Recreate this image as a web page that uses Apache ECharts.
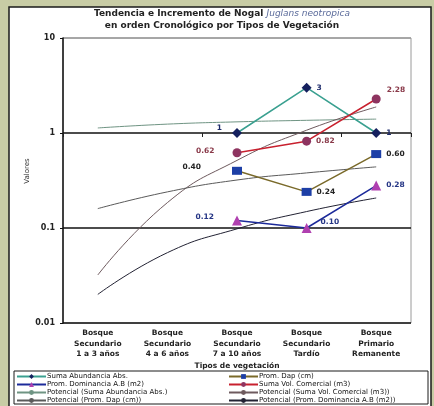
<!DOCTYPE html>
<html>
<head>
<meta charset="utf-8">
<script src="https://cdn.jsdelivr.net/npm/echarts@6/dist/echarts.min.js"></script>
<style>
  html, body { margin: 0; padding: 0; background: #c8cca5; }
  #chart { width: 434px; height: 406px; }
</style>
</head>
<body>
<div id="chart"></div>
<script>
// Vegetation types in chronological order
const categories = [
  'Bosque\nSecundario\n1 a 3 años',
  'Bosque\nSecundario\n4 a 6 años',
  'Bosque\nSecundario\n7 a 10 años',
  'Bosque\nSecundario\nTardío',
  'Bosque\nPrimario\nRemanente'
];

// Measured series (no data for the two youngest stands)
const sumaAbundancia   = [null, null, 1, 3, 1];
const promDap          = [null, null, 0.40, 0.24, 0.60];
const promDominancia   = [null, null, 0.12, 0.10, 0.28];
const sumaVolComercial = [null, null, 0.62, 0.82, 2.28];

// Power trend lines, read at each vegetation type
const potAbundancia    = [1.13, 1.24, 1.31, 1.36, 1.40];
const potDap           = [0.16, 0.24, 0.32, 0.38, 0.44];
const potVolComercial  = [0.032, 0.185, 0.515, 1.07, 1.88];
const potDominancia    = [0.020, 0.055, 0.098, 0.149, 0.207];

// Log axis ticks
const yTicks = ['0.01', '0.1', '1', '10'];

const FONT = 'DejaVu Sans';

// Where each point label sits relative to its marker
function labelled(values, places, color, digits) {
  return values.map((v, i) => {
    if (v === null) return null;
    const p = places[i] || { position: 'right' };
    return {
      value: v,
      label: {
        show: true,
        position: p.position,
        distance: p.distance != null ? p.distance : 4,
        offset: p.offset || [0, 0],
        formatter: () => digits ? v.toFixed(digits) : String(v),
        color: color,
        fontFamily: FONT,
        fontSize: 7.5,
        fontWeight: 'bold'
      }
    };
  });
}

const names = {
  abund: 'Suma Abundancia Abs.',
  dap: 'Prom. Dap (cm)',
  dom: 'Prom. Dominancia A.B (m2)',
  vol: 'Suma Vol. Comercial (m3)',
  pAbund: 'Potencial (Suma Abundancia Abs.)',
  pVol: 'Potencial (Suma Vol. Comercial (m3))',
  pDap: 'Potencial (Prom. Dap (cm))',
  pDom: 'Potencial (Prom. Dominancia A.B (m2))'
};

function trend(name, values, color) {
  return {
    name: name, type: 'line', data: values,
    smooth: true,
    symbol: 'none', showSymbol: false, z: 1,
    lineStyle: { color: color, width: 1 },
    itemStyle: { color: color }
  };
}

const chart = echarts.init(document.getElementById('chart'), null, { renderer: 'canvas' });

const titleRich = {
  a: { fontFamily: FONT, fontSize: 9, fontWeight: 'bold', fill: '#222' },
  b: { fontFamily: FONT, fontSize: 9, fontStyle: 'italic', fill: '#5a6a9a' }
};

chart.setOption({
  animation: false,
  backgroundColor: '#c8cca5',
  graphic: [
    { type: 'rect', z: -10, shape: { x: 9, y: 7, width: 422, height: 401 },
      style: { fill: '#ffffff', stroke: '#1a1a1a', lineWidth: 1.5 } },
    { type: 'rect', z: -5, shape: { x: 14, y: 371, width: 414, height: 33 },
      style: { fill: '#ffffff', stroke: '#1a1a1a', lineWidth: 1 } },
    { type: 'text', x: 222, y: 14, z: 10,
      style: {
        text: '{a|Tendencia e Incremento de Nogal }{b|Juglans neotropica}',
        align: 'center', verticalAlign: 'middle', rich: titleRich
      }
    },
    { type: 'text', x: 222, y: 26, z: 10,
      style: {
        text: '{a|en orden Cronológico por Tipos de Vegetación}',
        align: 'center', verticalAlign: 'middle', rich: titleRich
      }
    },
    { type: 'text', x: 27, y: 171, rotation: Math.PI / 2, z: 10,
      style: { text: 'Valores', fontFamily: FONT, fontSize: 7, fill: '#333',
               align: 'center', verticalAlign: 'middle' } },
    { type: 'text', x: 237, y: 366, z: 10,
      style: { text: 'Tipos de vegetación', fontFamily: FONT, fontSize: 7.5, fontWeight: 'bold',
               fill: '#222', align: 'center', verticalAlign: 'middle' } }
  ],
  grid: { left: 63, right: 23, top: 38, bottom: 83, show: true, borderColor: '#9a9a9a', borderWidth: 1 },
  legend: [
    {
      left: 16, top: 373, orient: 'vertical', padding: 0,
      itemWidth: 29, itemHeight: 6, itemGap: 1,
      data: [names.abund, names.dom, names.pAbund, names.pDap],
      textStyle: { fontFamily: FONT, fontSize: 7, color: '#111', lineHeight: 6, padding: [0, 0, 0, -4] }
    },
    {
      left: 228, top: 373, orient: 'vertical', padding: 0,
      itemWidth: 29, itemHeight: 6, itemGap: 1,
      data: [names.dap, names.vol, names.pVol, names.pDom],
      textStyle: { fontFamily: FONT, fontSize: 7, color: '#111', lineHeight: 6, padding: [0, 0, 0, -4] }
    }
  ],
  xAxis: [
    {
      type: 'category', data: categories, boundaryGap: true, position: 'bottom',
      axisLine: { show: false },
      axisTick: { show: false },
      axisLabel: { fontFamily: FONT, fontSize: 7.5, fontWeight: 'bold', color: '#222',
                   lineHeight: 10.5, margin: 5, interval: 0 }
    },
    {
      // tick row along the value-1 line
      type: 'category', data: categories, boundaryGap: true, position: 'bottom', offset: -190,
      axisLine: { show: false },
      axisTick: { show: true, length: 4, lineStyle: { color: '#222' } },
      axisLabel: { show: false }
    }
  ],
  yAxis: {
    type: 'log', logBase: 10, min: 0.01, max: 10,
    axisLine: { show: true, lineStyle: { color: '#111', width: 1.5 } },
    axisTick: { show: true, length: 3, lineStyle: { color: '#111' } },
    axisLabel: {
      fontFamily: FONT, fontSize: 8, fontWeight: 'bold', color: '#222', margin: 8,
      formatter: v => {
        const s = yTicks.find(t => Math.abs(parseFloat(t) - v) < v * 1e-6);
        return s || '';
      }
    },
    splitLine: { show: true, lineStyle: { color: ['#111', '#111', '#111', '#9a9a9a'], width: 1.5 } }
  },
  series: [
    {
      name: names.abund, type: 'line', z: 5,
      data: labelled(sumaAbundancia, {
        2: { position: 'left', distance: 10, offset: [0, -5] },
        3: { position: 'right', distance: 5 },
        4: { position: 'right', distance: 5 }
      }, '#1c2a6a', 0),
      symbol: 'diamond', symbolSize: 10,
      lineStyle: { color: '#3aa090', width: 1.5 },
      itemStyle: { color: '#15205e' }
    },
    {
      name: names.dap, type: 'line', z: 5,
      data: labelled(promDap, {
        2: { position: 'left', distance: 31, offset: [0, -4] },
        3: { position: 'right', distance: 5 },
        4: { position: 'right', distance: 5 }
      }, '#222', 2),
      symbol: 'rect', symbolSize: [10, 8],
      lineStyle: { color: '#7a6a2a', width: 1.5 },
      itemStyle: { color: '#1d3fa6' }
    },
    {
      name: names.dom, type: 'line', z: 5,
      data: labelled(promDominancia, {
        2: { position: 'left', distance: 18, offset: [0, -3] },
        3: { position: 'right', distance: 5, offset: [4, -6] },
        4: { position: 'right', distance: 5 }
      }, '#253585', 2),
      symbol: 'triangle', symbolSize: 10,
      lineStyle: { color: '#1c2a9a', width: 1.5 },
      itemStyle: { color: '#b040b0' }
    },
    {
      name: names.vol, type: 'line', z: 5,
      data: labelled(sumaVolComercial, {
        2: { position: 'left', distance: 18, offset: [0, -2] },
        3: { position: 'right', distance: 5 },
        4: { position: 'right', distance: 4, offset: [2, -9] }
      }, '#8a3a4a', 2),
      symbol: 'circle', symbolSize: 9,
      lineStyle: { color: '#c8202e', width: 1.5 },
      itemStyle: { color: '#8e3460' }
    },
    trend(names.pAbund, potAbundancia, '#6f9483'),
    trend(names.pVol, potVolComercial, '#6e5a5e'),
    trend(names.pDap, potDap, '#5a5a5a'),
    trend(names.pDom, potDominancia, '#222233')
  ]
});
</script>
</body>
</html>
